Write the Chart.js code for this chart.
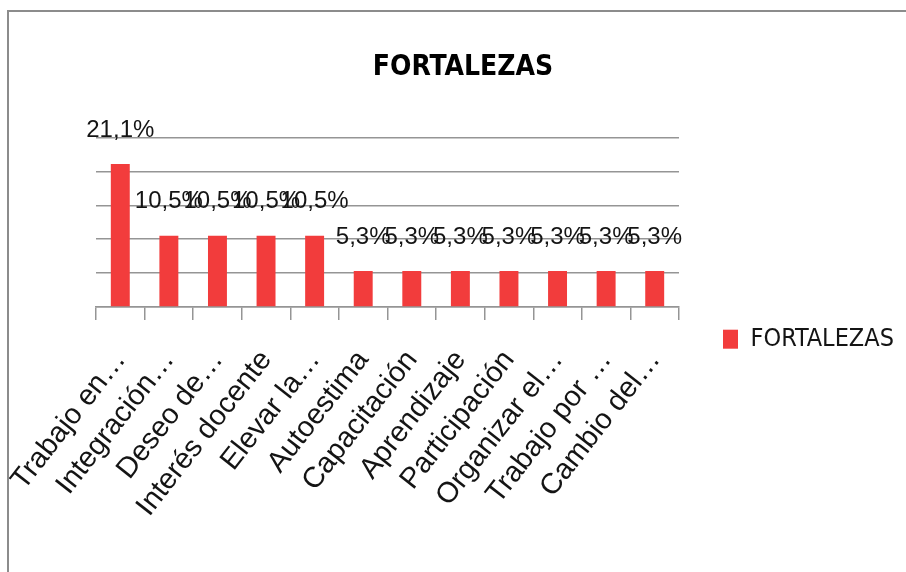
<!DOCTYPE html>
<html>
<head>
<meta charset="utf-8">
<script src="https://cdn.jsdelivr.net/npm/chart.js@4.4.0/dist/chart.umd.min.js"></script>
<style>
html,body{margin:0;padding:0;background:#fff;overflow:hidden;width:906px;height:572px;}
#wrap{position:relative;width:906px;height:572px;overflow:hidden;}
#frame{position:absolute;left:7px;top:10px;width:940px;height:600px;border-top:2px solid #8c8c8c;border-left:2px solid #8c8c8c;pointer-events:none;}
canvas{position:absolute;left:0;top:0;}
</style>
</head>
<body>
<div id="wrap"><canvas id="c" width="906" height="572"></canvas><div id="frame"></div></div>
<script>
// ---- data ----
const chartTitle = 'FORTALEZAS';
const seriesName = 'FORTALEZAS';
const categories = ['Trabajo en…', 'Integración…', 'Deseo de…', 'Interés docente', 'Elevar la…', 'Autoestima', 'Capacitación', 'Aprendizaje', 'Participación', 'Organizar el…', 'Trabajo por …', 'Cambio del…'];
const values = [21.1, 10.5, 10.5, 10.5, 10.5, 5.3, 5.3, 5.3, 5.3, 5.3, 5.3, 5.3];
const yTicks = [0, 5, 10, 15, 20, 25];

// ---- style ----
const NARROW = "'Liberation Sans Narrow','DejaVu Sans Condensed','Liberation Sans',sans-serif";
const SANS = "'Liberation Sans',Arial,sans-serif";
const GRID = '#959595';
const BAR = '#f23c3c';
const TEXT = '#141414';

const PLOT_LEFT = 96, PLOT_RIGHT = 679, PLOT_BOTTOM = 307, H = 572;
const legendFontSize = 25, legendPad = 44, boxW = 15, boxH = 19;

const mctx = document.createElement('canvas').getContext('2d');
mctx.font = legendFontSize + 'px ' + NARROW;
const tw = mctx.measureText(seriesName).width;
const legendWidth = legendPad + boxW + legendFontSize / 2 + tw + legendPad + 10;
let padRight = (906 - PLOT_RIGHT) - legendWidth;
let padLeft = 20 + padRight;
let yWidth = PLOT_LEFT - Math.max(padLeft, 0);

const valueLabels = {
  id: 'valueLabels',
  afterDatasetsDraw(chart) {
    const ctx = chart.ctx;
    const meta = chart.getDatasetMeta(0);
    const data = chart.data.datasets[0].data;
    ctx.save();
    ctx.font = '24px ' + SANS;
    ctx.fillStyle = TEXT;
    ctx.textAlign = 'center';
    ctx.textBaseline = 'middle';
    meta.data.forEach((el, i) => {
      ctx.fillText(data[i].toFixed(1).replace('.', ',') + '%', el.x, el.y - 34);
    });
    ctx.restore();
  }
};

const chart = new Chart(document.getElementById('c'), {
  type: 'bar',
  data: {
    labels: categories,
    datasets: [{
      label: seriesName,
      data: values,
      backgroundColor: BAR,
      borderWidth: 0,
      barPercentage: 0.39,
      categoryPercentage: 1
    }]
  },
  plugins: [valueLabels],
  options: {
    responsive: false,
    animation: false,
    devicePixelRatio: 1,
    layout: { padding: { left: padLeft, right: padRight, top: 0, bottom: 0 } },
    plugins: {
      title: {
        display: true,
        text: chartTitle,
        color: '#000',
        font: { family: NARROW, size: 28, weight: 'bold', lineHeight: 1.2 },
        padding: { top: 51, bottom: 53 }
      },
      legend: {
        display: true,
        position: 'right',
        align: 'center',
        maxWidth: 700,
        title: { display: true, text: '', font: { size: 12, lineHeight: 1.2 }, padding: { top: 0, bottom: 92 } },
        labels: {
          color: TEXT,
          font: { family: NARROW, size: legendFontSize },
          boxWidth: boxW,
          boxHeight: boxH,
          padding: legendPad
        }
      },
      tooltip: { enabled: false }
    },
    scales: {
      x: {
        offset: true,
        grid: { offset: true, drawOnChartArea: false, drawTicks: true, tickLength: 13, color: GRID, lineWidth: 1.5 },
        border: { display: true, color: GRID, width: 1.5 },
        ticks: {
          autoSkip: false,
          minRotation: 52,
          maxRotation: 52,
          padding: 24,
          color: TEXT,
          font: { family: SANS, size: 29 }
        },
        afterFit(s) { s.height = H - PLOT_BOTTOM; s.paddingLeft = 0; s.paddingRight = 0; }
      },
      y: {
        min: yTicks[0],
        max: yTicks[yTicks.length - 1],
        grid: { drawTicks: false, color: GRID, lineWidth: 1.5 },
        border: { display: false },
        ticks: { display: false, stepSize: yTicks[1] - yTicks[0] },
        afterFit(s) { s.width = yWidth; s.paddingTop = 0; s.paddingBottom = 0; }
      }
    }
  }
});

// correction passes so the plot edges land where the reference has them
for (let k = 0; k < 3; k++) {
  const dR = chart.chartArea.right - PLOT_RIGHT;
  const dL = chart.chartArea.left - PLOT_LEFT;
  if (Math.abs(dR) < 0.5 && Math.abs(dL) < 0.5) break;
  chart.options.layout.padding.right += dR;
  chart.options.layout.padding.left += dR;
  yWidth -= dL - dR;
  chart.update('none');
}
</script>
</body>
</html>
